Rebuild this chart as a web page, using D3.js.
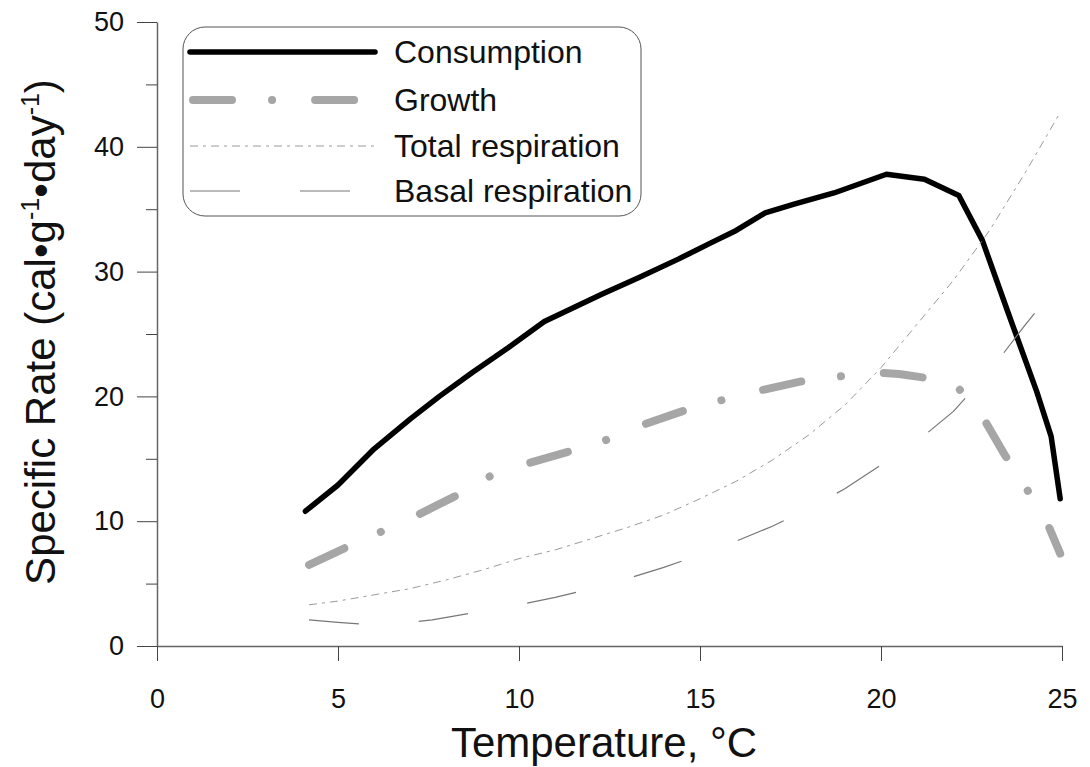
<!DOCTYPE html>
<html>
<head>
<meta charset="utf-8">
<script src="https://cdn.jsdelivr.net/npm/d3@7"></script>
<style>
  body { margin: 0; background: #fff; }
  svg { display: block; font-family: "Liberation Sans", Arial, sans-serif; }
</style>
</head>
<body>
<svg id="chart" width="1090" height="767"></svg>
<script>
// Values (temperature in degrees C, rate in cal/g/day)

const consumptionTemp = [4.1, 5.0, 6.0, 7.0, 7.8, 8.7, 9.7, 10.7, 11.5, 12.3, 13.3, 14.4, 15.3, 16.0, 16.8, 17.6, 18.7, 20.15, 21.2, 22.15, 22.8, 23.5, 24.3, 24.7, 24.95]
const consumptionRate = [10.8, 12.9, 15.8, 18.2, 20.0, 21.9, 23.9, 26.0, 27.1, 28.2, 29.5, 31.0, 32.3, 33.3, 34.7, 35.4, 36.3, 37.8, 37.4, 36.1, 32.5, 26.8, 20.4, 16.8, 11.8]

const growthTemp = [4.2, 5.3, 6.3, 7.2, 8.3, 9.2, 10.2, 11.4, 12.4, 13.4, 14.5, 15.6, 16.7, 17.8, 18.85, 19.9, 20.5, 21.2, 22.1, 22.8, 23.4, 24.0, 24.6, 24.95]
const growthRate = [6.5, 8.0, 9.3, 10.5, 12.1, 13.6, 14.6, 15.6, 16.5, 17.7, 18.8, 19.7, 20.5, 21.2, 21.6, 21.9, 21.8, 21.5, 20.8, 18.4, 15.4, 12.7, 9.8, 7.4]

const totalRespTemp = [4.2, 5, 6, 7, 8, 9, 10, 11, 12, 13, 14, 15, 16, 17, 18, 19, 20, 21, 22, 23, 24, 24.9]
const totalRespRate = [3.3, 3.6, 4.1, 4.6, 5.3, 6.1, 7.0, 7.7, 8.6, 9.5, 10.5, 11.8, 13.2, 14.9, 16.9, 19.3, 22.3, 25.8, 29.3, 33.3, 38.0, 42.5]

const basalRespTemp = [4.2, 5, 5.9, 7, 7.6, 8, 9, 10, 11, 12, 13, 14, 15, 16, 17, 18, 19, 20, 21, 22, 23, 24, 24.9]
const basalRespRate = [2.1, 1.9, 1.7, 1.9, 2.1, 2.3, 2.8, 3.3, 3.9, 4.6, 5.4, 6.3, 7.3, 8.4, 9.6, 11.0, 12.6, 14.5, 16.4, 18.8, 22.0, 25.8, 29.0]

const seriesNames = ["Consumption", "Growth", "Total respiration", "Basal respiration"]
const xTicks = [0, 5, 10, 15, 20, 25]
const yTicks = [0, 10, 20, 30, 40, 50]
const yMinorTicks = [5, 15, 25, 35, 45]

// Pair temperature and rate arrays into point objects
const zipSeries = (temps, rates) => temps.map((t, i) => ({ t: t, r: rates[i] }))

// Line styles for each series, in legend order
const seriesStyles = [
  { stroke: "#000", width: 5.5, dash: null, cap: "round" },
  { stroke: "#a6a6a6", width: 8, dash: "39,40,0.1,43", cap: "round" },
  { stroke: "#9a9a9a", width: 1, dash: "8,5,3,5", cap: "butt" },
  { stroke: "#777", width: 1.2, dash: "50,60", cap: "butt" }
]

const series = [
  zipSeries(consumptionTemp, consumptionRate),
  zipSeries(growthTemp, growthRate),
  zipSeries(totalRespTemp, totalRespRate),
  zipSeries(basalRespTemp, basalRespRate)
]

const svg = d3.select("#chart")

const x = d3.scaleLinear().domain([0, 25]).range([157, 1062])
const y = d3.scaleLinear().domain([0, 50]).range([646, 22])

// Y axis: labelled major ticks plus short minor ticks
const yAxis = svg.append("g")
  .attr("transform", `translate(${x(0)},0)`)
  .call(d3.axisLeft(y).tickValues(yTicks).tickSize(20).tickSizeOuter(0).tickPadding(13))
yAxis.select(".domain").attr("stroke", "#666").attr("stroke-width", 1.5)
yAxis.selectAll(".tick line").attr("stroke", "#444")
yAxis.selectAll(".tick text")
  .attr("font-size", 27)
  .attr("fill", "#111")
  .attr("font-family", "Liberation Sans, Arial, sans-serif")

svg.append("g")
  .attr("transform", `translate(${x(0)},0)`)
  .call(d3.axisLeft(y).tickValues(yMinorTicks).tickSize(11).tickFormat(""))
  .call(g => g.select(".domain").remove())
  .selectAll(".tick line").attr("stroke", "#444")

// X axis
const xAxis = svg.append("g")
  .attr("transform", `translate(0,${y(0)})`)
  .call(d3.axisBottom(x).tickValues(xTicks).tickSize(15).tickSizeOuter(0).tickPadding(28))
xAxis.select(".domain").attr("stroke", "#666").attr("stroke-width", 1.5)
xAxis.selectAll(".tick line").attr("stroke", "#444")
xAxis.selectAll(".tick text")
  .attr("font-size", 27)
  .attr("fill", "#111")
  .attr("font-family", "Liberation Sans, Arial, sans-serif")

// Axis titles
svg.append("text")
  .attr("x", 604)
  .attr("y", 757)
  .attr("text-anchor", "middle")
  .attr("font-size", 42)
  .attr("fill", "#111")
  .text("Temperature, °C")

const yTitle = svg.append("text")
  .attr("transform", "translate(55,332) rotate(-90)")
  .attr("text-anchor", "middle")
  .attr("font-size", 42)
  .attr("fill", "#111")
yTitle.append("tspan").text("Specific Rate (cal•g")
yTitle.append("tspan").attr("font-size", 25).attr("dy", -16).text("-1")
yTitle.append("tspan").attr("dy", 16).text("•day")
yTitle.append("tspan").attr("font-size", 25).attr("dy", -16).text("-1")
yTitle.append("tspan").attr("dy", 16).text(")")

// Data lines
const line = d3.line().x(d => x(d.t)).y(d => y(d.r))

svg.append("g")
  .selectAll("path")
  .data(series)
  .enter()
  .append("path")
  .attr("d", line)
  .attr("fill", "none")
  .attr("stroke", (d, i) => seriesStyles[i].stroke)
  .attr("stroke-width", (d, i) => seriesStyles[i].width)
  .attr("stroke-dasharray", (d, i) => seriesStyles[i].dash)
  .attr("stroke-linecap", (d, i) => seriesStyles[i].cap)
  .attr("stroke-linejoin", "round")

// Legend box with rounded corners
const legend = svg.append("g")
legend.append("rect")
  .attr("x", 183).attr("y", 27)
  .attr("width", 458).attr("height", 189)
  .attr("rx", 22)
  .attr("fill", "#fff")
  .attr("stroke", "#555")
  .attr("stroke-width", 1)

const legendRows = [52, 100, 146, 191]
const rows = legend.selectAll(".legend-row")
  .data(seriesNames)
  .enter()
  .append("g")
  .attr("class", "legend-row")
  .attr("transform", (d, i) => `translate(0,${legendRows[i]})`)

rows.append("line")
  .attr("x1", (d, i) => i == 1 ? 193 : 190)
  .attr("x2", 375)
  .attr("stroke", (d, i) => seriesStyles[i].stroke)
  .attr("stroke-width", (d, i) => seriesStyles[i].width)
  .attr("stroke-dasharray", (d, i) => seriesStyles[i].dash)
  .attr("stroke-linecap", (d, i) => seriesStyles[i].cap)

rows.append("text")
  .attr("x", 394)
  .attr("dy", "0.35em")
  .attr("font-size", 32)
  .attr("fill", "#111")
  .text(d => d)
</script>
</body>
</html>
